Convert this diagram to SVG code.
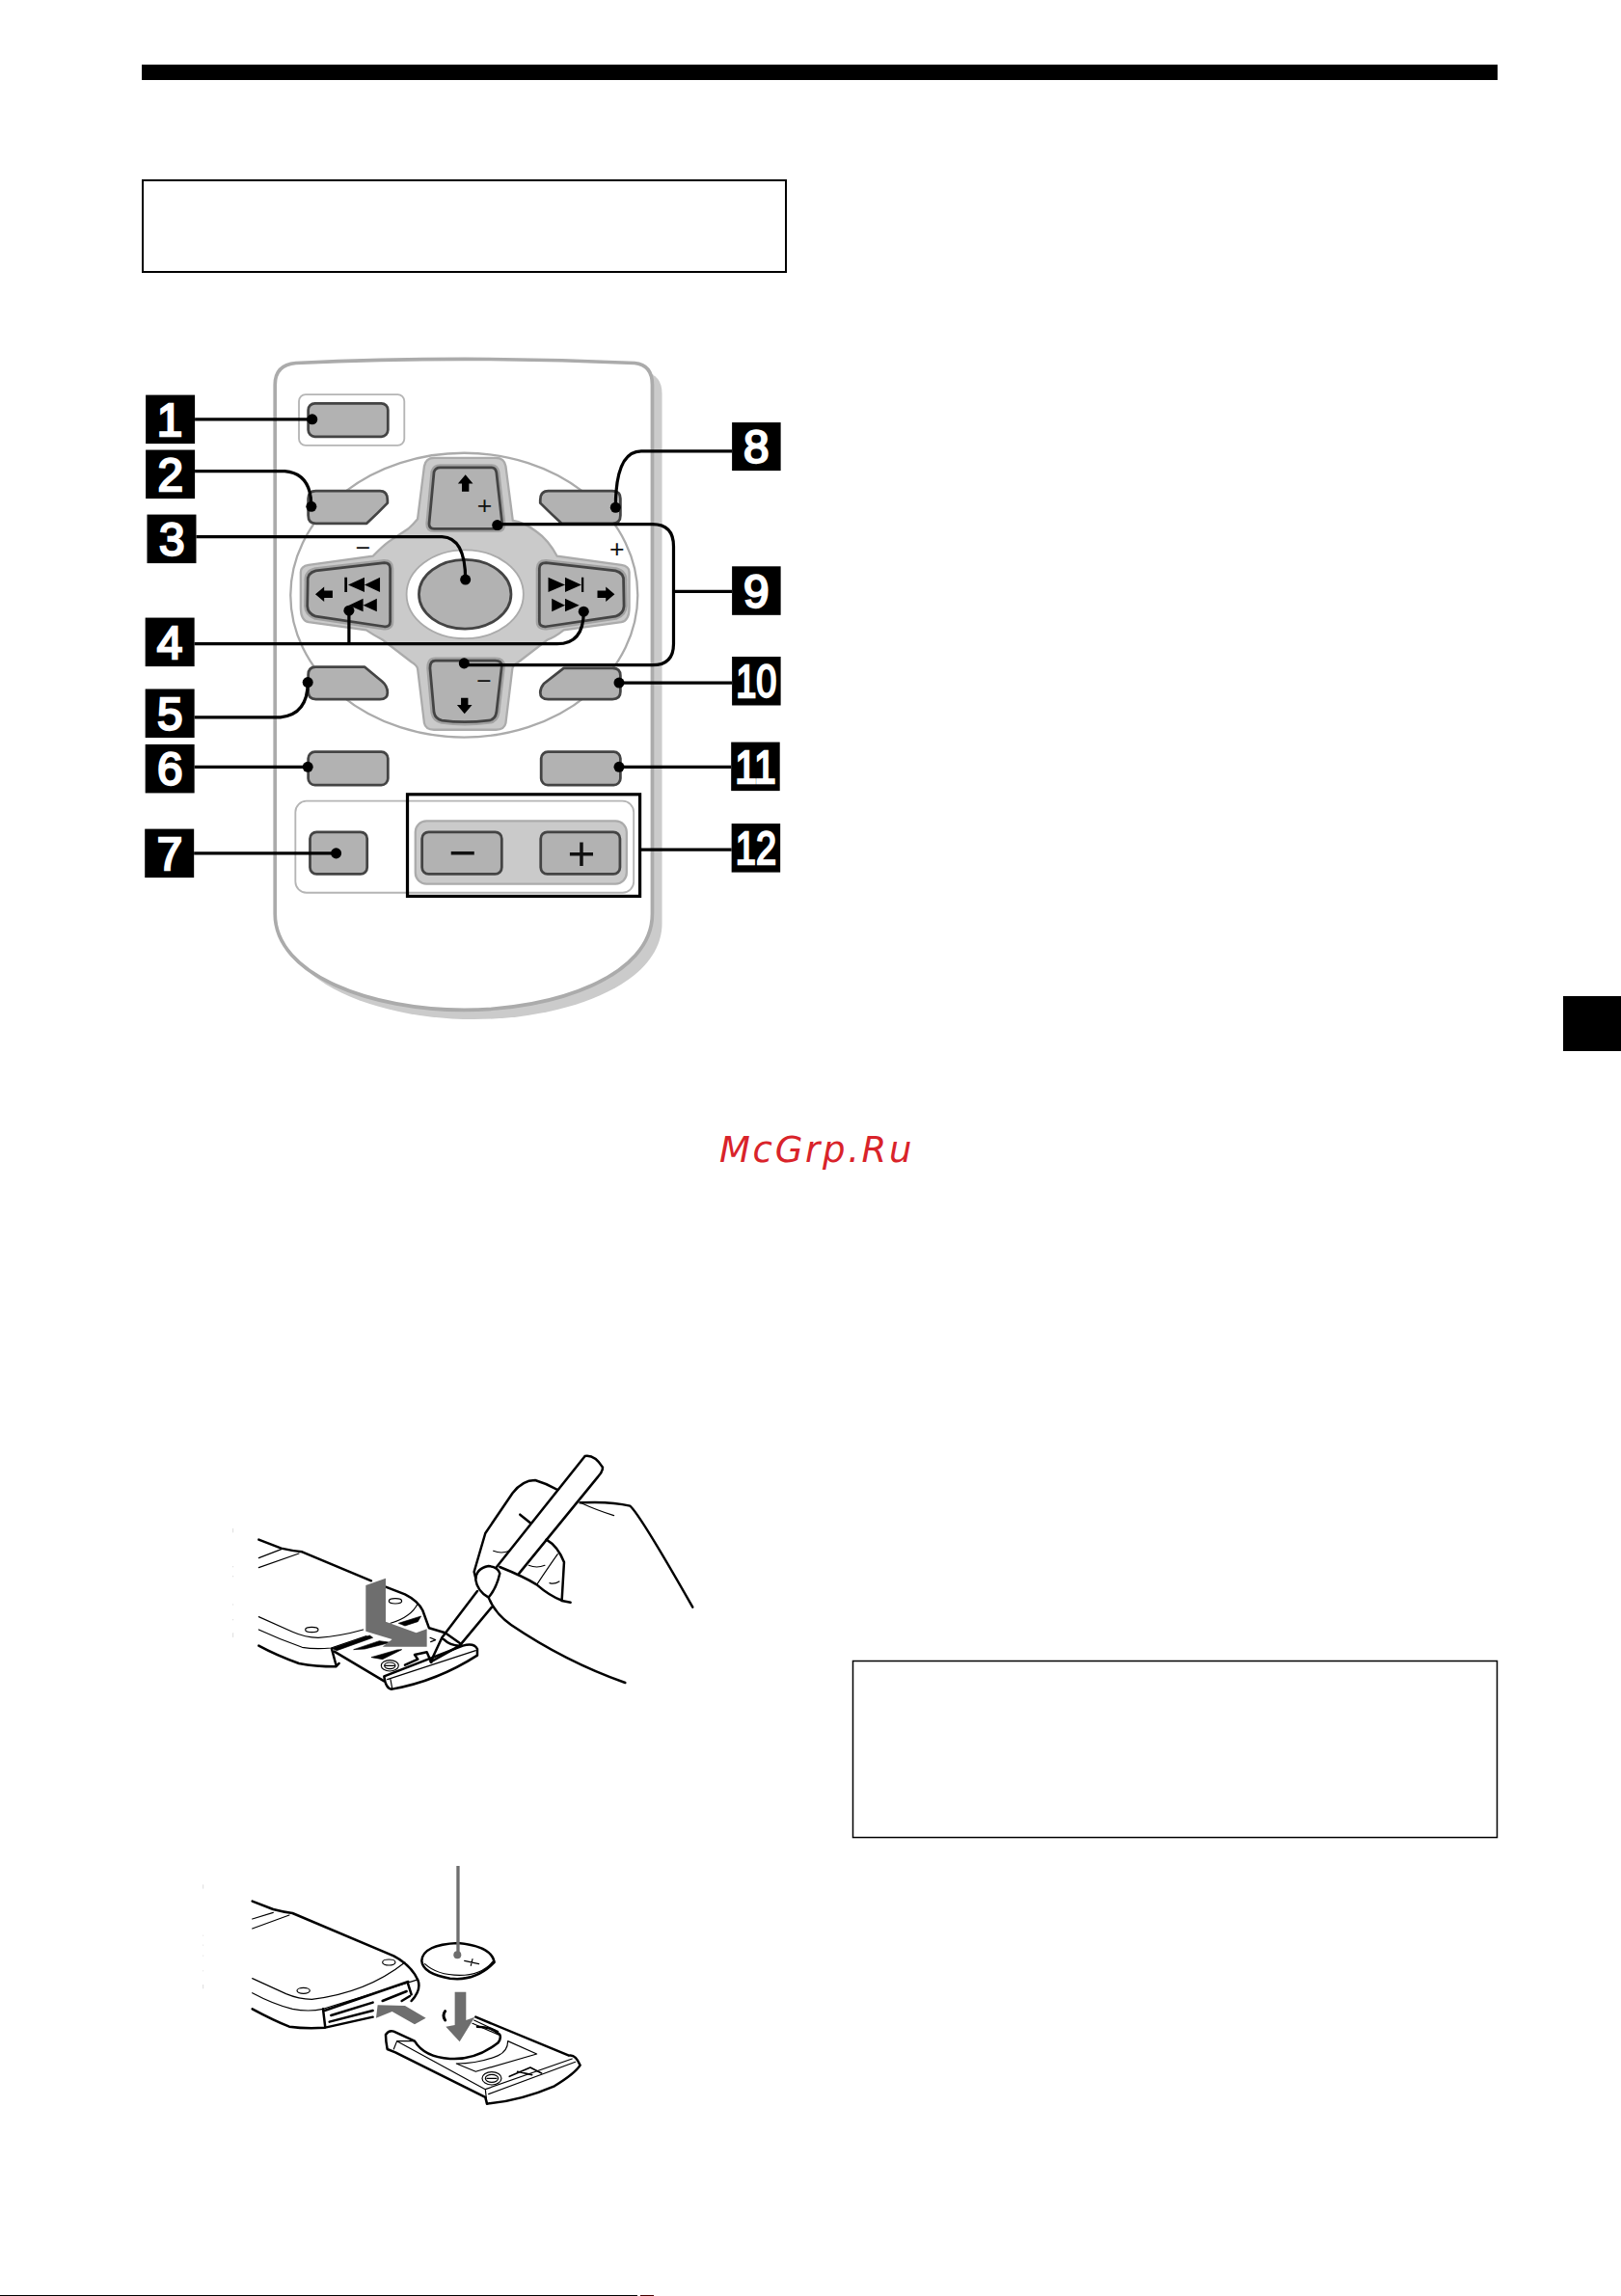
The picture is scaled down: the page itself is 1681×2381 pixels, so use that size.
<svg xmlns="http://www.w3.org/2000/svg" width="1681" height="2381" viewBox="0 0 1681 2381">
<style>
.lb{fill:#000}
.n{fill:#fff;stroke:#fff;stroke-width:5;font-family:"Liberation Sans",Arial,sans-serif;font-weight:400;font-size:104px;text-anchor:middle}
.btn{fill:#b2b2b2;stroke:#444;stroke-width:6;stroke-linejoin:round}
.halo{fill:#b2b2b2;stroke:#a2a2a2;stroke-width:16;stroke-linejoin:round}
.pan{fill:#cacaca;stroke:#ababab;stroke-width:5}
.lite{fill:none;stroke:#b5b5b5;stroke-width:4}
.ico{fill:#000}
.sym{fill:#111;font-family:"Liberation Sans",Arial,sans-serif;text-anchor:middle}
.con{fill:none;stroke:#000;stroke-width:7}
.dot{fill:#000}
.t{fill:none;stroke:#000;stroke-width:3.500;stroke-linecap:round;stroke-linejoin:round}
.k{fill:none;stroke:#000;stroke-width:7.500;stroke-linecap:round;stroke-linejoin:round}
.w{fill:#fff;stroke:#000;stroke-width:7.500;stroke-linejoin:round}
.f{fill:#000;stroke:#000;stroke-width:2;stroke-linejoin:round}
.ar{fill:#6e6e6e}
</style>
<defs>
 <path id="p-up" d="M697 282Q700 272 711 272H827Q836 272 838 283L851 399Q851 410 842 410H697Q686 410 686 399Z"/>
 <path id="p-down" d="M700 708H835Q850 708 850 720L838 825Q835 842 820 843Q765 850 715 843Q700 840 697 825L688 725Q688 708 700 708Z"/>
 <path id="p-left" d="M412 530Q410 510 430 505L585 487Q598 487 598 500V620Q598 632 585 631L430 608Q412 602 411 585Z"/>
 <path id="p-right" d="M1125 530Q1127 510 1107 505L950 487Q935 487 935 500V620Q935 632 950 631L1107 608Q1125 602 1126 585Z"/>
</defs>
<rect width="1681" height="2381" fill="#fff"/>
<rect id="top-bar" x="147" y="67" width="1406" height="16" fill="#000"/>
<rect id="box-top" x="148" y="187" width="667" height="95" fill="none" stroke="#000" stroke-width="2"/>
<rect id="box-right" x="884.500" y="1722.500" width="668" height="183" fill="none" stroke="#000" stroke-width="1.500"/>
<rect id="thumb-tab" x="1621" y="1033" width="60" height="57" fill="#000"/>
<rect id="bottom-line" x="0" y="2380" width="661" height="1" fill="#000"/>
<rect x="664" y="2380" width="14" height="1" fill="#400"/>
<text id="watermark" x="746" y="1205" font-family="DejaVu Sans,sans-serif" font-style="oblique" font-size="37" letter-spacing="2.700" fill="#d9232a">McGrp.Ru</text>

<g id="remote" transform="translate(130,360) scale(.4592)">
 <path id="remote-shadow" transform="translate(22,21)" fill="#cbcbcb" d="M338 85Q338 40 385 36Q765 18 1150 36Q1190 40 1190 85V1280C1190 1420 970 1497 765 1497C560 1497 338 1420 338 1280Z"/>
 <path id="remote-body" fill="#fff" stroke="#ababab" stroke-width="8" d="M338 85Q338 40 385 36Q765 18 1150 36Q1190 40 1190 85V1280C1190 1420 970 1497 765 1497C560 1497 338 1420 338 1280Z"/>
 <ellipse id="disc" cx="765" cy="560" rx="392" ry="321" fill="#fff" stroke="#ababab" stroke-width="5"/>
 <path id="cross" class="pan" d="M675 269Q678 250 697 250H837Q856 250 859 269L875 392Q900 395 929 417Q955 435 975 472L1120 492Q1138 495 1138 508V588Q1138 618 1120 621L990 639Q970 655 953 661L888 711Q875 718 874 726L859 849Q856 864 837 864H697Q678 864 675 849L660 726Q658 718 646 711L581 661Q560 650 544 639L414 621Q396 618 396 588V508Q396 495 414 492L559 472Q580 450 595 439L639 410Q650 400 660 388Z"/>
 <g id="btn-power"><rect class="lite" x="392" y="107" width="238" height="115" rx="15"/><rect class="btn" x="413" y="127" width="180" height="75" rx="15"/></g>
 <g id="btn-corners">
  <path class="btn" d="M430 325H575Q592 325 592 345V352Q570 375 545 398H430Q413 398 413 380V342Q413 325 430 325Z"/>
  <path class="btn" d="M1100 325H955Q937 325 937 345V352Q960 375 985 398H1100Q1118 398 1118 380V342Q1118 325 1100 325Z"/>
  <path class="btn" d="M430 722H540L580 755Q592 765 592 780Q592 795 575 795H430Q413 795 413 778V740Q413 722 430 722Z"/>
  <path class="btn" d="M1100 725H990L945 760Q937 770 937 780Q937 795 955 795H1100Q1118 795 1118 778V742Q1118 725 1100 725Z"/>
 </g>
 <g id="btn-up"><use href="#p-up" class="halo"/><use href="#p-up" class="btn"/><path class="ico" d="M768 288L785 308H776V326H760V308H751Z"/><text class="sym" x="811" y="376" font-size="58">+</text></g>
 <g id="btn-down"><use href="#p-down" class="halo"/><use href="#p-down" class="btn"/><path class="ico" d="M766 828L749 808H758V792H774V808H783Z"/><text class="sym" x="810" y="774" font-size="58">−</text></g>
 <g id="btn-left"><use href="#p-left" class="halo"/><use href="#p-left" class="btn"/><path class="ico" d="M429 558L449 541V550H468V566H449V575Z"/><path class="ico" d="M495 520H501V553H495ZM503 537L540 520V553ZM540 537L575 520V553ZM505 583L537 568V597ZM537 583L568 568V597Z"/><text class="sym" x="537" y="472" font-size="58">−</text></g>
 <g id="btn-right"><use href="#p-right" class="halo"/><use href="#p-right" class="btn"/><path class="ico" d="M1105 558L1085 541V550H1066V566H1085V575Z"/><path class="ico" d="M1030 520H1035V553H1030ZM1030 537L993 520V553ZM993 537L955 520V553ZM1025 583L993 568V597ZM993 583L963 568V597Z"/><text class="sym" x="1110" y="474" font-size="58">+</text></g>
 <g id="btn-center"><ellipse cx="767" cy="558" rx="132" ry="100" fill="#fff" stroke="#ababab" stroke-width="4"/><ellipse class="btn" cx="767" cy="558" rx="104" ry="78"/></g>
 <rect id="btn-6" class="btn" x="413" y="914" width="180" height="75" rx="15"/>
 <rect id="btn-11" class="btn" x="939" y="914" width="179" height="75" rx="15"/>
 <rect id="lower-panel" class="lite" x="384" y="1025" width="764" height="207" rx="25"/>
 <rect id="btn-7" class="btn" x="417" y="1095" width="129" height="95" rx="15"/>
 <g id="volume"><rect class="pan" x="655" y="1070" width="477" height="142" rx="25"/>
  <rect class="btn" x="670" y="1095" width="180" height="95" rx="15"/><rect class="btn" x="938" y="1095" width="179" height="95" rx="15"/>
  <text class="sym" x="762" y="1178" font-size="108">−</text><text class="sym" x="1030" y="1180" font-size="108">+</text>
  <rect x="637" y="1010" width="525" height="230" fill="none" stroke="#000" stroke-width="7"/></g>
 <g id="connectors">
  <path class="con" d="M157 163H422"/><path class="con" d="M157 280H360Q420 285 420 360"/><path class="con" d="M160 428H715Q768 430 768 525"/>
  <path class="con" d="M156 670H975Q1035 670 1035 597M505 670V595"/><path class="con" d="M156 836H350Q412 830 412 757"/>
  <path class="con" d="M156 948H412"/><path class="con" d="M155 1143H476"/><path class="con" d="M1370 235H1165Q1107 235 1107 362"/>
  <path class="con" d="M1370 552H1238M840 400H1190Q1238 400 1238 450V670Q1238 718 1190 718H765"/>
  <path class="con" d="M1370 758H1115"/><path class="con" d="M1368 948H1115"/><path class="con" d="M1369 1135H1162"/>
  <g class="dot"><circle cx="422" cy="163" r="12"/><circle cx="420" cy="360" r="12"/><circle cx="768" cy="525" r="12"/><circle cx="1035" cy="597" r="12"/><circle cx="505" cy="595" r="12"/><circle cx="412" cy="757" r="12"/><circle cx="412" cy="948" r="12"/><circle cx="476" cy="1143" r="12"/><circle cx="1107" cy="362" r="12"/><circle cx="840" cy="402" r="12"/><circle cx="765" cy="714" r="12"/><circle cx="1115" cy="758" r="12"/><circle cx="1115" cy="948" r="12"/></g>
 </g>
 <g id="label-1"><rect class="lb" x="46" y="108" width="111" height="110"/><text class="n" x="100" y="200">1</text></g>
 <g id="label-2"><rect class="lb" x="46" y="232" width="111" height="110"/><text class="n" x="102" y="324">2</text></g>
 <g id="label-3"><rect class="lb" x="49" y="378" width="111" height="110"/><text class="n" x="105" y="470">3</text></g>
 <g id="label-4"><rect class="lb" x="45" y="611" width="111" height="110"/><text class="n" x="100" y="703">4</text></g>
 <g id="label-5"><rect class="lb" x="45" y="772" width="111" height="110"/><text class="n" x="101" y="864">5</text></g>
 <g id="label-6"><rect class="lb" x="45" y="897" width="111" height="110"/><text class="n" x="101" y="989">6</text></g>
 <g id="label-7"><rect class="lb" x="44" y="1088" width="111" height="110"/><text class="n" x="100" y="1180">7</text></g>
 <g id="label-8"><rect class="lb" x="1370" y="170" width="110" height="109"/><text class="n" x="1425" y="261">8</text></g>
 <g id="label-9"><rect class="lb" x="1370" y="495" width="110" height="110"/><text class="n" x="1425" y="587">9</text></g>
 <g id="label-10"><rect class="lb" x="1370" y="699" width="110" height="110"/><text class="n" x="1425" y="791" textLength="92" lengthAdjust="spacingAndGlyphs">10</text></g>
 <g id="label-11"><rect class="lb" x="1368" y="892" width="110" height="110"/><text class="n" x="1423" y="984" textLength="92" lengthAdjust="spacingAndGlyphs">11</text></g>
 <g id="label-12"><rect class="lb" x="1369" y="1076" width="110" height="110"/><text class="n" x="1424" y="1168" textLength="92" lengthAdjust="spacingAndGlyphs">12</text></g>
</g>

<g id="illustration-open" transform="translate(220,1480) scale(.3333)">
 <path class="k" d="M145 350L215 377Q250 385 280 388L495 478M540 497L600 520Q640 540 655 570L675 625L725 640L775 675"/>
 <path class="t" d="M145 407L215 380M145 437L270 393M145 590L250 637Q290 655 330 655Q400 650 470 630M145 630Q210 660 280 685Q320 692 370 687L480 650M640 548Q620 590 555 610"/>
 <path class="k" d="M145 680Q200 710 270 735Q320 745 385 745L395 735M372 690L385 738"/>
 <ellipse class="t" cx="310" cy="630" rx="20" ry="8"/><ellipse class="t" cx="570" cy="541" rx="20" ry="8"/>
 <path class="f" d="M372 688L490 648L500 655L388 695ZM440 692L520 665L555 670L475 690ZM495 716L575 693L590 692L530 722ZM580 610L650 588L640 605L600 618Z"/>
 <path class="k" d="M380 698L535 790"/>
 <path class="w" d="M535 775L780 680Q815 670 825 690V710Q700 790 560 815Q540 815 535 775Z"/>
 <path class="t" d="M545 785L820 695M555 785L560 812"/>
 <ellipse class="t" cx="553" cy="742" rx="27" ry="17"/><ellipse class="t" cx="553" cy="742" rx="17" ry="10"/><path class="t" d="M538 742H568"/>
 <path class="k" d="M600 740L640 722L630 708L668 700L682 732"/>
 <path class="t" d="M678 655L695 662L680 668"/>
 <path class="ar" d="M540 470L478 492V635L560 660L530 683H668V628L635 640L540 605Z"/>
 <path class="k" d="M1160 90Q1190 85 1215 125Q1215 140 1200 155L955 455M1160 90L885 435"/>
 <path class="k" d="M825 510L715 655L680 730L770 680L870 560M720 660Q740 680 770 680"/>
 <path class="k" d="M820 470L815 450L850 330L935 205Q965 165 1005 165Q1040 175 1075 195"/>
 <path class="k" d="M820 475Q820 440 860 432Q890 435 895 455Q885 500 860 530Q825 510 820 475ZM860 530Q880 580 930 615Q1100 730 1285 795"/>
 <path class="k" d="M1145 235Q1240 230 1300 245Q1330 270 1495 560"/>
 <path class="t" d="M1145 235Q1200 260 1250 275"/>
 <path class="k" d="M1040 350Q1075 370 1095 420L1088 540L1115 545M895 435Q970 465 1010 490Q1050 525 1090 540M958 272L990 298"/>
 <path class="t" d="M875 385Q900 395 925 385M985 430Q1010 440 1035 430M1075 395Q1050 430 1010 490M1050 485Q1065 490 1080 480"/>
 <path stroke="#ddd" stroke-width="3" d="M65 315V328M65 432V436M65 462V466M65 550V554M65 597V601M65 640V654"/>
</g>

<g id="illustration-battery" transform="translate(200,1920) scale(.3333)">
 <path class="k" d="M185 155L250 180Q280 188 310 192L625 325Q680 355 700 400Q712 430 680 465"/>
 <path class="t" d="M185 210L250 190M185 240L300 198M185 395L290 443Q330 460 370 460Q540 440 660 345M185 440Q250 475 310 490Q360 500 405 490L695 400"/>
 <path class="k" d="M185 490Q250 525 300 545Q350 552 412 548L560 515M405 490L412 548M410 495L670 405M430 510L560 470M425 530L560 495M590 465L665 435M650 465L675 450M668 408L680 445"/>
 <ellipse class="t" cx="344" cy="433" rx="20" ry="9"/><ellipse class="t" cx="610" cy="345" rx="20" ry="9"/>
 <path class="ar" d="M575 478L660 480L725 518L690 538L620 498L570 518Z"/>
 <path class="w" d="M712 340Q715 380 800 395Q880 405 938 345Q930 295 825 285Q715 290 712 340Z"/>
 <path class="t" d="M722 350Q760 385 830 385Q900 385 935 340"/>
 <path class="t" d="M845 340L890 350M870 335L865 355"/>
 <path stroke="#6e6e6e" stroke-width="10" d="M825 45V322"/><circle cx="823" cy="322" r="12" fill="#6e6e6e"/>
 <path class="k" d="M880 515L1170 635Q1190 630 1205 665Q1190 690 1125 730Q1020 775 915 785L910 765L630 625L605 615Q600 590 600 570Q610 555 625 560L690 590Q720 640 800 645Q880 650 950 595Q960 580 955 570Q930 545 885 545"/>
 <path class="t" d="M635 590L910 740L915 785M910 740L1180 645M920 755L1190 655M875 525L950 560M870 535L950 570M635 590L625 615M635 590L690 590M980 590L1070 630L880 685L820 660M980 590Q980 620 950 635Q890 660 820 660"/>
 <ellipse class="t" cx="930" cy="706" rx="30" ry="20"/><ellipse class="t" cx="930" cy="706" rx="20" ry="12"/><path class="t" d="M915 706H945"/>
 <path class="k" d="M985 700L1050 672L1085 690M1010 685L1055 695" style="stroke-width:5"/>
 <path class="ar" d="M815 437H850V525L877 515L830 592L787 545L815 540Z"/>
 <path class="k" d="M785 497Q775 510 785 525" style="stroke-width:9"/>
 <path stroke="#ddd" stroke-width="3" d="M32 103V116M32 260V263M32 290V293M32 323V326M32 370V373M32 414V427"/>
</g>
</svg>
